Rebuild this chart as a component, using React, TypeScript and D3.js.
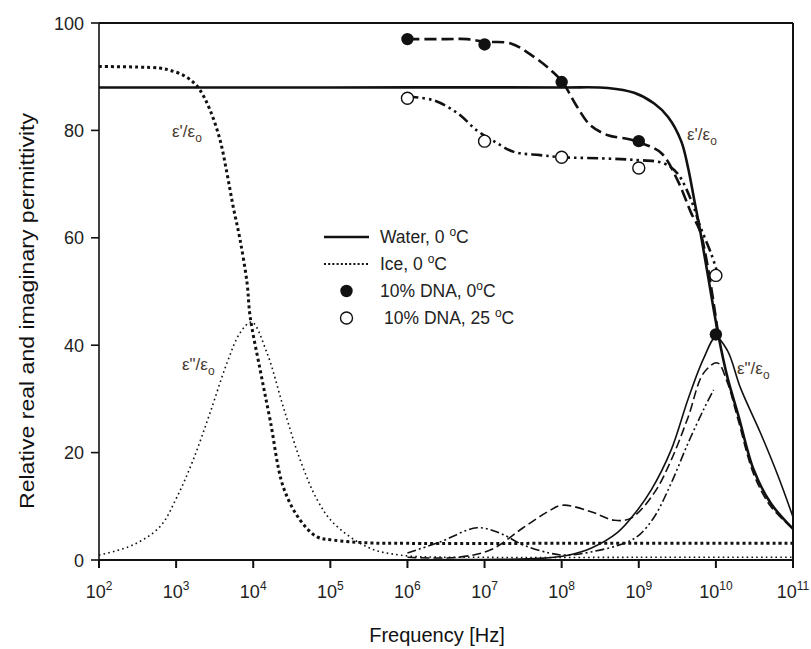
import React from "react";
import * as d3 from "d3";

// ---- Data (frequency as log10 Hz, values as relative permittivity) ----
const waterRealLogF = [2, 5, 8.0, 8.6, 8.94, 9.2, 9.38, 9.55, 9.64, 9.72, 9.8, 9.9, 10.03, 10.15, 10.29, 10.49, 10.71, 11];
const waterRealVal = [88, 88, 88, 87.9, 87, 85, 82.5, 78, 73, 67, 61, 52.7, 42, 34, 27, 16.8, 10.6, 5.8];

const waterImagLogF = [6.0, 7.0, 7.73, 8.08, 8.38, 8.73, 8.94, 9.16, 9.42, 9.64, 9.84, 10.0, 10.15, 10.32, 10.58, 10.81, 11];
const waterImagVal = [0.05, 0.1, 0.3, 0.9, 2.2, 5.2, 8.5, 13, 20.5, 30, 37.5, 41.5, 39, 32, 23.6, 15.5, 8];

const iceRealLogF = [2.0, 2.5, 2.79, 2.92, 3.09, 3.22, 3.31, 3.44, 3.57, 3.66, 3.74, 3.83, 3.92, 3.96, 4.09, 4.22, 4.39, 4.61, 4.83, 5.04, 5.48, 6, 8, 11];
const iceRealVal = [91.9, 91.8, 91.6, 91.2, 90.3, 89, 87.5, 83.8, 78.2, 72, 65.8, 59.6, 51.6, 45.3, 35.4, 26, 13.6, 7.4, 4.3, 3.7, 3.2, 3.1, 3.1, 3.1];

const iceImagLogF = [2.0, 2.44, 2.79, 3.01, 3.22, 3.44, 3.66, 3.83, 3.98, 4.18, 4.39, 4.61, 4.83, 5.04, 5.48, 5.91, 7, 9, 11];
const iceImagVal = [0.9, 2.8, 6.2, 11.7, 18.6, 27.4, 36.7, 42.3, 44.3, 38.5, 28.5, 18.6, 11.2, 6.9, 2.4, 0.9, 0.5, 0.5, 0.5];

const dnaColdRealLogF = [6.0, 6.5, 6.78, 7.0, 7.34, 7.64, 7.86, 8.01, 8.2, 8.37, 8.6, 8.86, 9.0, 9.29, 9.5, 9.68, 9.8, 10.03];
const dnaColdRealVal = [97, 97, 97, 96.5, 96.2, 93.7, 91.2, 89, 84.4, 81, 79.1, 78.4, 77.8, 75.8, 70.8, 64.6, 61, 42];

const dnaColdImagLogF = [6.0, 6.65, 7.08, 7.5, 7.82, 8.01, 8.38, 8.68, 8.9, 9.2, 9.42, 9.64, 9.84, 10.02, 10.15, 10.29, 10.49, 10.71, 11];
const dnaColdImagVal = [0.5, 0.5, 1.9, 6, 9, 10.2, 9, 7.4, 7.8, 12.5, 18.6, 26.6, 34.8, 36.7, 33, 26, 16, 10, 5.8];

const dnaWarmRealLogF = [6.0, 6.34, 6.65, 6.9, 7.12, 7.38, 7.72, 8.01, 8.5, 8.94, 9.32, 9.5, 9.68, 9.8, 9.94, 10.03];
const dnaWarmRealVal = [86.3, 85.6, 83.2, 80, 78, 76, 75.4, 75, 74.8, 74.5, 73.9, 72, 67, 62, 57, 53];

const dnaWarmImagLogF = [6.0, 6.43, 6.9, 7.2, 7.5, 7.84, 8.06, 8.38, 8.81, 9.0, 9.2, 9.42, 9.64, 9.84, 9.97];
const dnaWarmImagVal = [1.3, 3.4, 6.0, 5.0, 2.8, 1.3, 0.9, 1.5, 3.1, 4.6, 8, 14.3, 21.8, 28, 31.7];

const dnaPointLogF = [6, 7, 8, 9, 10];
const dnaColdPoints = [97, 96, 89, 78, 42];
const dnaWarmPoints = [86, 78, 75, 73, 53];

const xTickExponents = [2, 3, 4, 5, 6, 7, 8, 9, 10, 11];
const yTicks = [0, 20, 40, 60, 80, 100];

const FONT = "'Liberation Sans', Arial, Helvetica, sans-serif";

export default function App() {
  const W = 811, H = 649;
  const left = 99, right = 793, top = 23, bottom = 560;

  const x = d3.scaleLog().domain([1e2, 1e11]).range([left, right]);
  const y = d3.scaleLinear().domain([0, 100]).range([bottom, top]);

  const line = d3
    .line<[number, number]>()
    .x((d) => x(Math.pow(10, d[0])))
    .y((d) => y(d[1]))
    .curve(d3.curveCatmullRom.alpha(0.5));

  const zip = (a: number[], b: number[]) => a.map((v, i) => [v, b[i]] as [number, number]);

  const series = [
    { d: zip(iceImagLogF, iceImagVal), w: 1.6, dash: "1.6 3.2" },
    { d: zip(iceRealLogF, iceRealVal), w: 3, dash: "3 3" },
    { d: zip(waterImagLogF, waterImagVal), w: 1.6, dash: "" },
    { d: zip(waterRealLogF, waterRealVal), w: 2.6, dash: "" },
    { d: zip(dnaColdImagLogF, dnaColdImagVal), w: 1.6, dash: "9 4" },
    { d: zip(dnaColdRealLogF, dnaColdRealVal), w: 2.6, dash: "12 5" },
    { d: zip(dnaWarmImagLogF, dnaWarmImagVal), w: 1.6, dash: "9 3 2 3 2 3" },
    { d: zip(dnaWarmRealLogF, dnaWarmRealVal), w: 2.6, dash: "11 4 2.5 4 2.5 4" },
  ];

  const textColor = "#222";
  const annColor = "#4a3b30";

  const Ann = ({ x0, y0, dbl }: { x0: number; y0: number; dbl: boolean }) => (
    <text x={x0} y={y0} fontFamily={FONT} fontSize={17} fill={annColor}>
      {dbl ? "\u03B5\"/\u03B5" : "\u03B5'/\u03B5"}
      <tspan dy={5} fontSize={12}>o</tspan>
    </text>
  );

  const Deg = ({ pre, post }: { pre: string; post: string }) => (
    <>
      {pre}
      <tspan dy={-7} fontSize={12}>o</tspan>
      <tspan dy={7}>{post}</tspan>
    </>
  );

  const legendX1 = 324, legendX2 = 369, legendText = 380;
  const legendRows = [237, 264, 291, 318];

  return (
    <svg
      width={W}
      height={H}
      style={{ position: "absolute", left: 0, top: 0, background: "#fff" }}
    >
      <rect x={0} y={0} width={W} height={H} fill="#fff" />

      {/* frame */}
      <line x1={left} y1={top} x2={right} y2={top} stroke="#111" strokeWidth={2} />
      <line x1={right} y1={top} x2={right} y2={bottom} stroke="#111" strokeWidth={2} />
      <line x1={left} y1={top} x2={left} y2={bottom} stroke="#111" strokeWidth={1.6} />

      {/* curves */}
      {series.map((s, i) => (
        <path
          key={i}
          d={line(s.d) || ""}
          fill="none"
          stroke="#111"
          strokeWidth={s.w}
          strokeDasharray={s.dash || undefined}
        />
      ))}

      <line x1={left} y1={bottom} x2={right} y2={bottom} stroke="#111" strokeWidth={2.2} />

      {/* points */}
      {dnaPointLogF.map((lf, i) => (
        <circle key={"c" + i} cx={x(Math.pow(10, lf))} cy={y(dnaColdPoints[i])} r={6.2} fill="#111" />
      ))}
      {dnaPointLogF.map((lf, i) => (
        <circle
          key={"w" + i}
          cx={x(Math.pow(10, lf))}
          cy={y(dnaWarmPoints[i])}
          r={6}
          fill="#fff"
          stroke="#111"
          strokeWidth={1.4}
        />
      ))}

      {/* y ticks */}
      {yTicks.map((t) => (
        <g key={"y" + t}>
          <line x1={left - 8} x2={left} y1={y(t)} y2={y(t)} stroke="#111" strokeWidth={1.6} />
          <text
            x={left - 15}
            y={y(t) + 6.5}
            textAnchor="end"
            fontFamily={FONT}
            fontSize={18}
            fill={textColor}
          >
            {t}
          </text>
        </g>
      ))}

      {/* x ticks */}
      {xTickExponents.map((e) => (
        <g key={"x" + e}>
          <line
            x1={x(Math.pow(10, e))}
            x2={x(Math.pow(10, e))}
            y1={bottom}
            y2={bottom + 8}
            stroke="#111"
            strokeWidth={2}
          />
          <text
            x={x(Math.pow(10, e))}
            y={bottom + 38}
            textAnchor="middle"
            fontFamily={FONT}
            fontSize={18}
            fill={textColor}
          >
            10
            <tspan dy={-8} fontSize={12}>{e}</tspan>
          </text>
        </g>
      ))}

      {/* axis titles */}
      <text
        x={437}
        y={642}
        textAnchor="middle"
        fontFamily={FONT}
        fontSize={20}
        fill="#111"
      >
        Frequency [Hz]
      </text>
      <text
        transform="translate(34,311) rotate(-90)"
        textAnchor="middle"
        fontFamily={FONT}
        fontSize={21}
        fill="#111"
        textLength={396}
        lengthAdjust="spacingAndGlyphs"
      >
        Relative real and imaginary permittivity
      </text>

      {/* annotations */}
      <Ann x0={172} y0={137} dbl={false} />
      <Ann x0={687} y0={140} dbl={false} />
      <Ann x0={182} y0={370} dbl={true} />
      <Ann x0={737} y0={374} dbl={true} />

      {/* legend */}
      <line x1={legendX1} x2={legendX2} y1={legendRows[0]} y2={legendRows[0]} stroke="#111" strokeWidth={2.6} />
      <line
        x1={legendX1}
        x2={legendX2}
        y1={legendRows[1]}
        y2={legendRows[1]}
        stroke="#111"
        strokeWidth={1.8}
        strokeDasharray="2 2.2"
      />
      <circle cx={(legendX1 + legendX2) / 2} cy={legendRows[2]} r={6.2} fill="#111" />
      <circle
        cx={(legendX1 + legendX2) / 2}
        cy={legendRows[3]}
        r={6}
        fill="#fff"
        stroke="#111"
        strokeWidth={1.4}
      />
      <text x={legendText} y={legendRows[0] + 6} fontFamily={FONT} fontSize={17.5} fill={textColor}>
        <Deg pre="Water, 0 " post="C" />
      </text>
      <text x={legendText} y={legendRows[1] + 6} fontFamily={FONT} fontSize={17.5} fill={textColor}>
        <Deg pre="Ice, 0 " post="C" />
      </text>
      <text x={legendText} y={legendRows[2] + 6} fontFamily={FONT} fontSize={17.5} fill={textColor}>
        <Deg pre="10% DNA, 0" post="C" />
      </text>
      <text x={legendText + 4} y={legendRows[3] + 6} fontFamily={FONT} fontSize={17.5} fill={textColor}>
        <Deg pre={"10% DNA,  25 "} post="C" />
      </text>
    </svg>
  );
}
